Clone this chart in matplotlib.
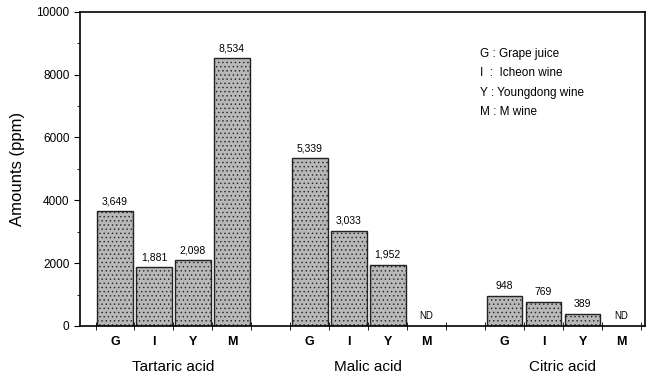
import numpy as np
import matplotlib
matplotlib.use("Agg")
import matplotlib.pyplot as plt
from matplotlib.ticker import MultipleLocator, FixedLocator

# Organic acid amounts (ppm) per sample
acids = ['Tartaric acid', 'Malic acid', 'Citric acid']
samples = ['G', 'I', 'Y', 'M']
tartaric = [3649, 1881, 2098, 8534]
malic = [5339, 3033, 1952, None]   # None = not detected
citric = [948, 769, 389, None]
legend_lines = ['G : Grape juice', 'I  :  Icheon wine', 'Y : Youngdong wine', 'M : M wine']

plt.rcParams['font.family'] = ['Liberation Sans', 'DejaVu Sans']
plt.rcParams['hatch.color'] = '#7a7a7a'
plt.rcParams['hatch.linewidth'] = 0.5

fig = plt.figure(figsize=(6.5, 3.83), dpi=100)
ax = fig.add_axes([0.123, 0.149, 0.869, 0.82])

gap = 5
for gi, vals in enumerate([tartaric, malic, citric]):
    for si, v in enumerate(vals):
        x = gi * gap + si
        if v is None:
            ax.text(x, 150, 'ND', ha='center', va='bottom', fontsize=7)
            continue
        ax.bar(x, v, width=0.92, color='#b8b8b8', edgecolor='#222222',
               linewidth=1.0, hatch='....')
        ax.text(x, v + 150, f'{v:,}', ha='center', va='bottom', fontsize=7.5)

# category letters and group names under the axis
centers = [gi * gap + si for gi in range(3) for si in range(4)]
ax.set_xticks(centers)
ax.set_xticklabels(samples * 3, fontweight='bold', fontsize=9)
ax.tick_params(axis='x', which='major', length=0, pad=7)
ax.xaxis.set_minor_locator(FixedLocator(np.arange(-0.5, 14, 1.0)))
ax.tick_params(axis='x', which='minor', direction='inout', length=6)
for gi, name in enumerate(acids):
    ax.text(gi * gap + 1.5, -0.11, name, transform=ax.get_xaxis_transform(),
            ha='center', va='top', fontsize=11)

ax.set_xlim(-0.9, 13.6)
ax.set_ylim(0, 10000)
ax.yaxis.set_major_locator(MultipleLocator(2000))
ax.yaxis.set_minor_locator(MultipleLocator(1000))
ax.tick_params(axis='y', labelsize=8.5, length=4)
ax.tick_params(axis='y', which='minor', length=2.5)
ax.set_ylabel('Amounts (ppm)', fontsize=12, labelpad=8)

for sp in ax.spines.values():
    sp.set_linewidth(1.2)

for i, line in enumerate(legend_lines):
    ax.text(0.708, 0.865 - i * 0.061, line, transform=ax.transAxes,
            ha='left', va='center', fontsize=8.5)

fig.savefig('out.png', dpi=100)
